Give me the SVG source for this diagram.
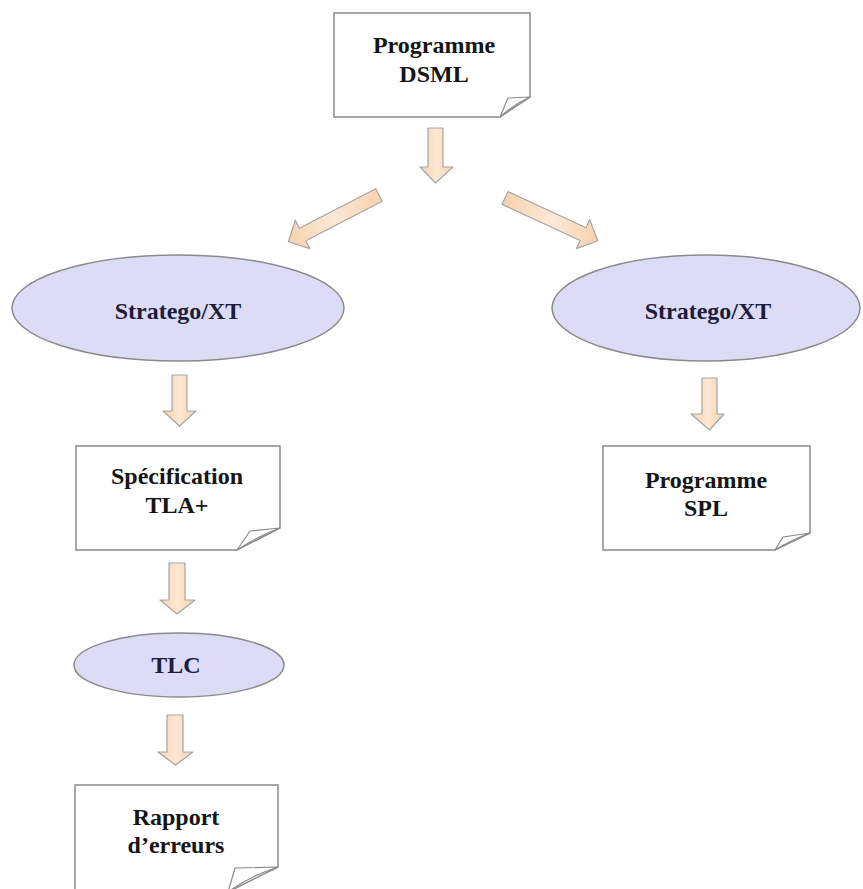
<svg xmlns="http://www.w3.org/2000/svg" width="863" height="889" viewBox="0 0 863 889">
<style>
.doc{fill:#fff;stroke:#8a8a8a;stroke-width:1.5}
.flap{fill:#fff;stroke:#8a8a8a;stroke-width:1.2;stroke-linejoin:round}
.ell{fill:#dcdcf6;stroke:#8a8a8a;stroke-width:1.5}
.arr{fill:url(#pg);stroke:#a5a5a5;stroke-width:1.2;stroke-linejoin:round}
.t{font-family:"Liberation Serif","Times New Roman",serif;font-weight:bold;font-size:24px;fill:#151515;text-anchor:middle}
.te{fill:#1c1c3c}
</style>
<defs>
<linearGradient id="pg" x1="0" y1="0" x2="1" y2="0">
<stop offset="0" stop-color="#f6d2ae"/>
<stop offset="0.5" stop-color="#fde8d4"/>
<stop offset="1" stop-color="#f6d2ae"/>
</linearGradient>
</defs>
<rect width="863" height="889" fill="#fff"/>
<g id="connectors">
<path class="arr" d="M428,128 H443 V167 H453 L435.5,183 L420,167 H428 Z"/>
<g transform="translate(379,195) rotate(152.7)"><path class="arr" d="M0,-7 H86 V-16 L102,0 L86,16 V7 H0 Z"/></g>
<g transform="translate(505,198) rotate(24.8)"><path class="arr" d="M0,-7 H86 V-16 L102,0 L86,16 V7 H0 Z"/></g>
<path class="arr" d="M172,375 H187 V411 H196 L179.5,426 L163,411 H172 Z"/>
<path class="arr" d="M702,378 H717 V414 H724 L709.5,430 L691,414 H702 Z"/>
<path class="arr" d="M169,563 H185 V600 H195 L177,614 L160,600 H169 Z"/>
<path class="arr" d="M167,715 H183 V752 H193 L175.5,765 L158,752 H167 Z"/>
</g>
<g id="dsml">
<path class="doc" d="M334,13 H530 V97 L500,117 H334 Z"/>
<path class="flap" d="M500,117 L508,98 L530,97 Q514,104 500,117 Z"/>
<text class="t" x="434" y="53">Programme</text>
<text class="t" x="434" y="82">DSML</text>
</g>
<g id="stratego-left">
<ellipse class="ell" cx="178" cy="308" rx="166" ry="53"/>
<text class="t te" x="178" y="319">Stratego/XT</text>
</g>
<g id="stratego-right">
<ellipse class="ell" cx="706" cy="308" rx="154" ry="53"/>
<text class="t te" x="708" y="319">Stratego/XT</text>
</g>
<g id="tla">
<path class="doc" d="M76,446 H280 V528 L237,550 H76 Z"/>
<path class="flap" d="M237,550 L250,531 L280,528 Q258,536 237,550 Z"/>
<text class="t" x="177" y="484">Spécification</text>
<text class="t" x="177" y="513">TLA+</text>
</g>
<g id="spl">
<path class="doc" d="M603,446 H810 V533 L775,550 H603 Z"/>
<path class="flap" d="M775,550 L783,537 L810,533 Q791,540 775,550 Z"/>
<text class="t" x="706" y="488">Programme</text>
<text class="t" x="706" y="516">SPL</text>
</g>
<g id="tlc">
<ellipse class="ell" cx="179" cy="665" rx="105" ry="32"/>
<text class="t te" x="176" y="673">TLC</text>
</g>
<g id="rapport">
<path class="doc" d="M75,785 H278 V867 L228,892 H75 Z"/>
<path class="flap" d="M228,892 L235,868 L278,867 Q250,876 228,892 Z"/>
<text class="t" x="176" y="825">Rapport</text>
<text class="t" x="176" y="853">d’erreurs</text>
</g>
</svg>
